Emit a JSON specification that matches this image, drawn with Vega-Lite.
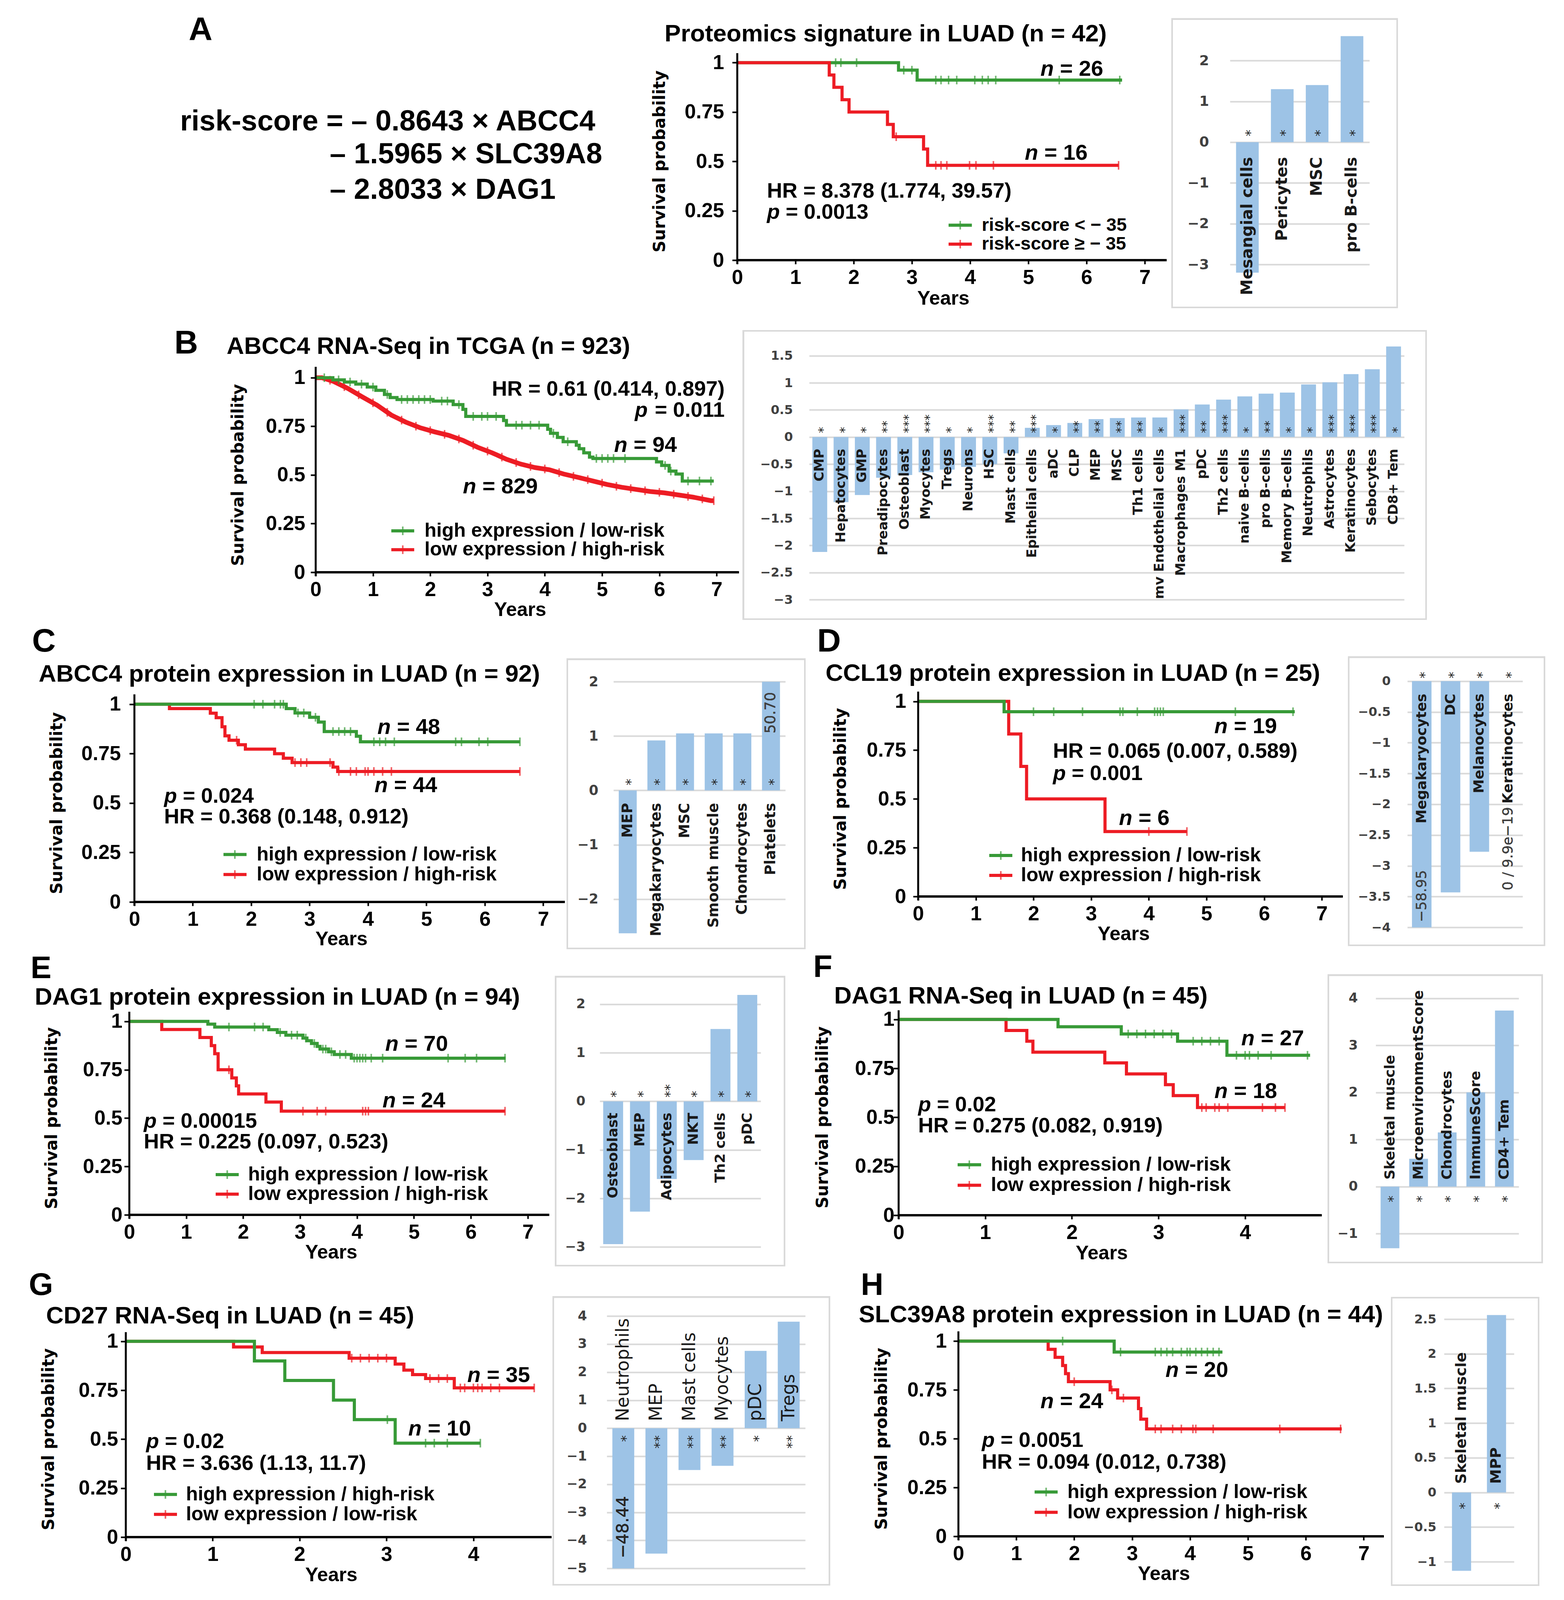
{
"$schema": "https://vega.github.io/schema/vega-lite/v6.json",
"background": "white",
"padding": 0,
"spacing": 0,
"config": {
  "view": {"stroke": null},
  "text": {"font": "Liberation Sans", "fontWeight": "bold", "color": "black", "baseline": "middle"}
},
"vconcat": [
{"bounds": "flush", "spacing": 0, "hconcat": [
{
 "width": 1887, "height": 831,
 "data": {"values": [{}]},
 "layer": [
  {"mark": {"type": "text", "text": "A", "fontSize": 84, "align": "center"},
   "encoding": {"x": {"datum": 0.272, "scale": {"domain": [0, 1], "nice": false}, "axis": null}, "y": {"datum": 0.0942, "scale": {"domain": [0, 1], "reverse": true, "nice": false}, "axis": null}}},
  {"mark": {"type": "text", "text": "risk-score = – 0.8643 × ABCC4", "fontSize": 74, "align": "left"},
   "encoding": {"x": {"datum": 0.2443}, "y": {"datum": 0.376}}},
  {"mark": {"type": "text", "text": "– 1.5965 × SLC39A8", "fontSize": 74, "align": "left"},
   "encoding": {"x": {"datum": 0.4473}, "y": {"datum": 0.4769}}},
  {"mark": {"type": "text", "text": "– 2.8033 × DAG1", "fontSize": 74, "align": "left"},
   "encoding": {"x": {"datum": 0.4473}, "y": {"datum": 0.5856}}}
 ]
},
{
 "width": 1261, "height": 666,
 "data": {"values": [{}]},
 "layer": [
  {"data": {"values": [{"t":0,"s":1},{"t":2.77,"s":0.962},{"t":3.09,"s":0.912},{"t":6.61,"s":0.912}]},
   "mark": {"type": "line", "interpolate": "step-after", "color": "#379a37", "strokeWidth": 8},
   "encoding": {
    "x": {"field": "t", "type": "quantitative", "scale": {"domain": [0, 8.463], "nice": false, "zero": false},
          "axis": {"values": [0,1,2,3,4,5,6,7], "format": "d", "title": null, "domain": false, "grid": false, "tickSize": 10, "tickWidth": 4, "tickColor": "black", "labelFont": "Liberation Sans", "labelFontSize": 52, "labelFontWeight": "bold", "labelColor": "black", "labelPadding": 9, "labelFlush": false, "labelOverlap": false}},
    "y": {"field": "s", "type": "quantitative", "scale": {"domain": [0, 1.3172], "nice": false, "zero": false},
          "axis": {"values": [0,0.25,0.5,0.75,1], "format": "~g", "title": null, "domain": false, "grid": false, "tickSize": 13, "tickWidth": 4, "tickColor": "black", "labelFont": "Liberation Sans", "labelFontSize": 52, "labelFontWeight": "bold", "labelColor": "black", "labelPadding": 21, "labelFlush": false, "labelOverlap": false}}}},
  {"data": {"values": [{"t":1.69,"s":1},{"t":1.78,"s":1},{"t":2.05,"s":1},{"t":2.86,"s":0.962},{"t":3.0,"s":0.962},{"t":3.41,"s":0.912},{"t":3.5,"s":0.912},{"t":3.63,"s":0.912},{"t":3.77,"s":0.912},{"t":4.08,"s":0.912},{"t":4.21,"s":0.912},{"t":4.31,"s":0.912},{"t":4.44,"s":0.912},{"t":5.53,"s":0.912},{"t":6.57,"s":0.912}]},
   "mark": {"type": "tick", "orient": "vertical", "color": "#379a37", "size": 22, "thickness": 4},
   "encoding": {"x": {"field": "t", "type": "quantitative"}, "y": {"field": "s", "type": "quantitative"}}},
  {"data": {"values": [{"t":0,"s":1},{"t":1.58,"s":0.9375},{"t":1.66,"s":0.875},{"t":1.8,"s":0.8125},{"t":1.92,"s":0.75},{"t":2.58,"s":0.6875},{"t":2.68,"s":0.625},{"t":3.2,"s":0.5625},{"t":3.27,"s":0.48},{"t":6.55,"s":0.48}]},
   "mark": {"type": "line", "interpolate": "step-after", "color": "#ed1c24", "strokeWidth": 8},
   "encoding": {"x": {"field": "t", "type": "quantitative"}, "y": {"field": "s", "type": "quantitative"}}},
  {"data": {"values": [{"t":2.73,"s":0.625},{"t":3.41,"s":0.48},{"t":3.5,"s":0.48},{"t":3.6,"s":0.48},{"t":3.99,"s":0.48},{"t":4.1,"s":0.48},{"t":4.4,"s":0.48},{"t":6.55,"s":0.48}]},
   "mark": {"type": "tick", "orient": "vertical", "color": "#ed1c24", "size": 22, "thickness": 4},
   "encoding": {"x": {"field": "t", "type": "quantitative"}, "y": {"field": "s", "type": "quantitative"}}},
  {"mark": {"type": "rule", "color": "black", "strokeWidth": 6}, "encoding": {"x": {"datum": 0}, "x2": {"datum": 7.376}, "y": {"datum": 0}}},
  {"mark": {"type": "rule", "color": "black", "strokeWidth": 5}, "encoding": {"x": {"datum": 0}, "y": {"datum": -0.02}, "y2": {"datum": 1.048}}},
  {"mark": {"type": "text", "text": "Proteomics signature in LUAD (n = 42)", "fontSize": 62, "align": "left"}, "encoding": {"x": {"datum": -1.248}, "y": {"datum": 1.145}}},
  {"mark": {"type": "text", "text": "n", "fontStyle": "italic", "fontSize": 56, "align": "left"}, "encoding": {"x": {"datum": 5.208}, "y": {"datum": 0.968}}},
  {"mark": {"type": "text", "text": "= 26", "dx": 50, "fontSize": 56, "align": "left"}, "encoding": {"x": {"datum": 5.208}, "y": {"datum": 0.968}}},
  {"mark": {"type": "text", "text": "n", "fontStyle": "italic", "fontSize": 56, "align": "left"}, "encoding": {"x": {"datum": 4.94}, "y": {"datum": 0.542}}},
  {"mark": {"type": "text", "text": "= 16", "dx": 50, "fontSize": 56, "align": "left"}, "encoding": {"x": {"datum": 4.94}, "y": {"datum": 0.542}}},
  {"mark": {"type": "text", "text": "HR = 8.378 (1.774, 39.57)", "fontSize": 54, "align": "left"}, "encoding": {"x": {"datum": 0.51}, "y": {"datum": 0.349}}},
  {"mark": {"type": "text", "text": "p", "fontStyle": "italic", "fontSize": 54, "align": "left"}, "encoding": {"x": {"datum": 0.51}, "y": {"datum": 0.242}}},
  {"mark": {"type": "text", "text": "= 0.0013", "dx": 48, "fontSize": 54, "align": "left"}, "encoding": {"x": {"datum": 0.51}, "y": {"datum": 0.242}}},
  {"mark": {"type": "rule", "color": "#379a37", "strokeWidth": 8}, "encoding": {"x": {"datum": 3.63}, "x2": {"datum": 4.03}, "y": {"datum": 0.177}}},
  {"mark": {"type": "tick", "orient": "vertical", "color": "#379a37", "size": 22, "thickness": 4}, "encoding": {"x": {"datum": 3.83}, "y": {"datum": 0.177}}},
  {"mark": {"type": "rule", "color": "#ed1c24", "strokeWidth": 8}, "encoding": {"x": {"datum": 3.63}, "x2": {"datum": 4.03}, "y": {"datum": 0.081}}},
  {"mark": {"type": "tick", "orient": "vertical", "color": "#ed1c24", "size": 22, "thickness": 4}, "encoding": {"x": {"datum": 3.83}, "y": {"datum": 0.081}}},
  {"mark": {"type": "text", "text": "risk-score < − 35", "fontSize": 47, "align": "left"}, "encoding": {"x": {"datum": 4.2}, "y": {"datum": 0.177}}},
  {"mark": {"type": "text", "text": "risk-score ≥ − 35", "fontSize": 47, "align": "left"}, "encoding": {"x": {"datum": 4.2}, "y": {"datum": 0.081}}},
  {"mark": {"type": "text", "text": "Years", "fontSize": 50, "align": "center"}, "encoding": {"x": {"datum": 3.54}, "y": {"datum": -0.195}}},
  {"mark": {"type": "text", "text": "Survival probability", "font": "DejaVu Sans", "fontSize": 42, "angle": 270, "align": "center"}, "encoding": {"x": {"datum": -1.329}, "y": {"datum": 0.5}}}
 ]
},
{
 "width": 357, "height": 787,
 "data": {"values": [{"cat":"Mesangial cells","v":-3.2,"star":"*"},{"cat":"Pericytes","v":1.3,"star":"*"},{"cat":"MSC","v":1.4,"star":"*"},{"cat":"pro B-cells","v":2.6,"star":"*"}]},
 "layer": [
  {"mark": {"type": "rect", "filled": false, "stroke": "#d9d9d9", "strokeWidth": 4},
   "encoding": {"x": {"datum": "Mesangial cells", "bandPosition": -2.821, "axis": null}, "x2": {"datum": "pro B-cells", "bandPosition": 2.493}, "y": {"datum": 3.019}, "y2": {"datum": -4.0536}}},
  {"mark": {"type": "bar", "color": "#9dc3e6"},
   "encoding": {
    "x": {"field": "cat", "type": "nominal", "scale": {"domain": ["Mesangial cells","Pericytes","MSC","pro B-cells"], "paddingInner": 0.35, "paddingOuter": 0.175}, "axis": null},
    "y": {"field": "v", "type": "quantitative", "scale": {"domain": [-4.0536, 3.4866], "nice": false, "zero": false},
          "axis": {"values": [-3,-2,-1,0,1,2], "format": "~g", "title": null, "domain": false, "ticks": false, "tickSize": 0, "grid": true, "gridColor": "#d9d9d9", "gridWidth": 4, "labelFont": "DejaVu Sans", "labelFontSize": 36, "labelFontWeight": "bold", "labelColor": "#404040", "labelPadding": 54, "labelFlush": false, "labelOverlap": false}}}},
  {"mark": {"type": "text", "angle": 270, "align": "left", "dx": 15, "dy": 9, "font": "DejaVu Sans", "fontWeight": "normal", "fontSize": 34, "color": "#262626"},
   "encoding": {"x": {"field": "cat", "type": "nominal", "axis": null}, "y": {"datum": 0}, "text": {"field": "star"}}},
  {"mark": {"type": "text", "angle": 270, "align": "right", "dx": -38, "font": "DejaVu Sans", "fontSize": 41, "color": "#1a1a1a"},
   "encoding": {"x": {"field": "cat", "type": "nominal", "axis": null}, "y": {"datum": 0}, "text": {"field": "cat"}}}
 ]
}
]},

{"bounds": "flush", "spacing": 0, "hconcat": [
{"width": 808, "height": 760, "data": {"values": []}, "mark": "point", "encoding": {}},
{
 "width": 1263, "height": 634,
 "data": {"values": [{}]},
 "layer": [
  {"data": {"values": [{"t":0,"s":1},{"t":0.11,"s":1},{"t":0.31,"s":0.981},{"t":0.56,"s":0.945},{"t":0.81,"s":0.902},{"t":1.07,"s":0.859},{"t":1.32,"s":0.808},{"t":1.57,"s":0.772},{"t":1.82,"s":0.743},{"t":2.07,"s":0.722},{"t":2.32,"s":0.704},{"t":2.57,"s":0.678},{"t":2.83,"s":0.642},{"t":3.08,"s":0.614},{"t":3.33,"s":0.581},{"t":3.58,"s":0.556},{"t":3.83,"s":0.538},{"t":4.08,"s":0.527},{"t":4.33,"s":0.505},{"t":4.59,"s":0.487},{"t":4.84,"s":0.469},{"t":5.09,"s":0.451},{"t":5.34,"s":0.437},{"t":5.59,"s":0.426},{"t":5.84,"s":0.415},{"t":6.09,"s":0.408},{"t":6.34,"s":0.397},{"t":6.59,"s":0.386},{"t":6.9,"s":0.368},{"t":6.95,"s":0.368}]},
   "mark": {"type": "line", "color": "#ed1c24", "strokeWidth": 12},
   "encoding": {
    "x": {"field": "t", "type": "quantitative", "scale": {"domain": [0, 8.615], "nice": false, "zero": false},
          "axis": {"values": [0,1,2,3,4,5,6,7], "format": "d", "title": null, "domain": false, "grid": false, "tickSize": 10, "tickWidth": 4, "tickColor": "black", "labelFont": "Liberation Sans", "labelFontSize": 52, "labelFontWeight": "bold", "labelColor": "black", "labelPadding": 9, "labelFlush": false, "labelOverlap": false}},
    "y": {"field": "s", "type": "quantitative", "scale": {"domain": [0, 1.2729], "nice": false, "zero": false},
          "axis": {"values": [0,0.25,0.5,0.75,1], "format": "~g", "title": null, "domain": false, "grid": false, "tickSize": 13, "tickWidth": 4, "tickColor": "black", "labelFont": "Liberation Sans", "labelFontSize": 52, "labelFontWeight": "bold", "labelColor": "black", "labelPadding": 14, "labelFlush": false, "labelOverlap": false}}}},
  {"data": {"values": [{"t":0.25,"s":0.987},{"t":0.5,"s":0.954},{"t":0.75,"s":0.912},{"t":1.0,"s":0.871},{"t":1.25,"s":0.822},{"t":1.5,"s":0.782},{"t":1.75,"s":0.751},{"t":2.0,"s":0.728},{"t":2.25,"s":0.709},{"t":2.5,"s":0.685},{"t":2.75,"s":0.653},{"t":3.0,"s":0.623},{"t":3.25,"s":0.592},{"t":3.5,"s":0.564},{"t":3.75,"s":0.544},{"t":4.0,"s":0.531},{"t":4.25,"s":0.512},{"t":4.5,"s":0.493},{"t":4.75,"s":0.476},{"t":5.0,"s":0.458},{"t":5.25,"s":0.442},{"t":5.5,"s":0.43},{"t":5.75,"s":0.419},{"t":6.0,"s":0.411},{"t":6.25,"s":0.401},{"t":6.5,"s":0.39},{"t":6.75,"s":0.377},{"t":6.95,"s":0.368}]},
   "mark": {"type": "tick", "orient": "vertical", "color": "#ed1c24", "size": 22, "thickness": 4},
   "encoding": {"x": {"field": "t", "type": "quantitative"}, "y": {"field": "s", "type": "quantitative"}}},
  {"data": {"values": [{"t":0,"s":1},{"t":0.3,"s":0.989},{"t":0.5,"s":0.978},{"t":0.7,"s":0.967},{"t":0.9,"s":0.952},{"t":1.05,"s":0.935},{"t":1.2,"s":0.914},{"t":1.3,"s":0.898},{"t":1.42,"s":0.888},{"t":2.05,"s":0.88},{"t":2.4,"s":0.862},{"t":2.57,"s":0.837},{"t":2.62,"s":0.801},{"t":3.28,"s":0.78},{"t":3.33,"s":0.756},{"t":4.05,"s":0.735},{"t":4.1,"s":0.714},{"t":4.22,"s":0.693},{"t":4.32,"s":0.671},{"t":4.55,"s":0.653},{"t":4.6,"s":0.635},{"t":4.68,"s":0.614},{"t":4.78,"s":0.592},{"t":4.84,"s":0.585},{"t":5.95,"s":0.567},{"t":6.04,"s":0.549},{"t":6.17,"s":0.52},{"t":6.29,"s":0.505},{"t":6.4,"s":0.469},{"t":6.95,"s":0.469}]},
   "mark": {"type": "line", "interpolate": "step-after", "color": "#379a37", "strokeWidth": 8},
   "encoding": {"x": {"field": "t", "type": "quantitative"}, "y": {"field": "s", "type": "quantitative"}}},
  {"data": {"values": [{"t":0.15,"s":1},{"t":0.4,"s":0.989},{"t":0.6,"s":0.978},{"t":0.8,"s":0.967},{"t":1.0,"s":0.952},{"t":1.25,"s":0.914},{"t":1.5,"s":0.888},{"t":1.6,"s":0.888},{"t":1.7,"s":0.888},{"t":1.8,"s":0.888},{"t":1.9,"s":0.888},{"t":2.0,"s":0.888},{"t":2.2,"s":0.88},{"t":2.3,"s":0.88},{"t":2.5,"s":0.862},{"t":2.75,"s":0.801},{"t":2.9,"s":0.801},{"t":3.0,"s":0.801},{"t":3.15,"s":0.801},{"t":3.5,"s":0.756},{"t":3.6,"s":0.756},{"t":3.75,"s":0.756},{"t":3.9,"s":0.756},{"t":4.15,"s":0.714},{"t":4.4,"s":0.671},{"t":4.9,"s":0.585},{"t":5.0,"s":0.585},{"t":5.1,"s":0.585},{"t":5.2,"s":0.585},{"t":5.4,"s":0.585},{"t":6.1,"s":0.549},{"t":6.2,"s":0.52},{"t":6.5,"s":0.469},{"t":6.7,"s":0.469},{"t":6.9,"s":0.469}]},
   "mark": {"type": "tick", "orient": "vertical", "color": "#379a37", "size": 22, "thickness": 4},
   "encoding": {"x": {"field": "t", "type": "quantitative"}, "y": {"field": "s", "type": "quantitative"}}},
  {"mark": {"type": "rule", "color": "black", "strokeWidth": 6}, "encoding": {"x": {"datum": 0}, "x2": {"datum": 7.39}, "y": {"datum": 0}}},
  {"mark": {"type": "rule", "color": "black", "strokeWidth": 5}, "encoding": {"x": {"datum": 0}, "y": {"datum": -0.02}, "y2": {"datum": 1.056}}},
  {"mark": {"type": "text", "text": "B", "fontSize": 84, "align": "center"}, "encoding": {"x": {"datum": -2.26}, "y": {"datum": 1.175}}},
  {"mark": {"type": "text", "text": "ABCC4 RNA-Seq in TCGA (n = 923)", "fontSize": 62, "align": "left"}, "encoding": {"x": {"datum": -1.555}, "y": {"datum": 1.16}}},
  {"mark": {"type": "text", "text": "HR = 0.61 (0.414, 0.897)", "fontSize": 54, "align": "right"}, "encoding": {"x": {"datum": 7.14}, "y": {"datum": 0.939}}},
  {"mark": {"type": "text", "text": "= 0.011", "fontSize": 54, "align": "right"}, "encoding": {"x": {"datum": 7.14}, "y": {"datum": 0.831}}},
  {"mark": {"type": "text", "text": "p", "fontStyle": "italic", "dx": -197, "fontSize": 54, "align": "right"}, "encoding": {"x": {"datum": 7.14}, "y": {"datum": 0.831}}},
  {"mark": {"type": "text", "text": "n", "fontStyle": "italic", "fontSize": 56, "align": "left"}, "encoding": {"x": {"datum": 5.21}, "y": {"datum": 0.653}}},
  {"mark": {"type": "text", "text": "= 94", "dx": 50, "fontSize": 56, "align": "left"}, "encoding": {"x": {"datum": 5.21}, "y": {"datum": 0.653}}},
  {"mark": {"type": "text", "text": "n", "fontStyle": "italic", "fontSize": 56, "align": "left"}, "encoding": {"x": {"datum": 2.57}, "y": {"datum": 0.44}}},
  {"mark": {"type": "text", "text": "= 829", "dx": 50, "fontSize": 56, "align": "left"}, "encoding": {"x": {"datum": 2.57}, "y": {"datum": 0.44}}},
  {"mark": {"type": "rule", "color": "#379a37", "strokeWidth": 8}, "encoding": {"x": {"datum": 1.32}, "x2": {"datum": 1.72}, "y": {"datum": 0.213}}},
  {"mark": {"type": "tick", "orient": "vertical", "color": "#379a37", "size": 22, "thickness": 4}, "encoding": {"x": {"datum": 1.52}, "y": {"datum": 0.213}}},
  {"mark": {"type": "rule", "color": "#ed1c24", "strokeWidth": 8}, "encoding": {"x": {"datum": 1.32}, "x2": {"datum": 1.72}, "y": {"datum": 0.116}}},
  {"mark": {"type": "tick", "orient": "vertical", "color": "#ed1c24", "size": 22, "thickness": 4}, "encoding": {"x": {"datum": 1.52}, "y": {"datum": 0.116}}},
  {"mark": {"type": "text", "text": "high expression / low-risk", "fontSize": 50, "align": "left"}, "encoding": {"x": {"datum": 1.9}, "y": {"datum": 0.213}}},
  {"mark": {"type": "text", "text": "low expression / high-risk", "fontSize": 50, "align": "left"}, "encoding": {"x": {"datum": 1.9}, "y": {"datum": 0.116}}},
  {"mark": {"type": "text", "text": "Years", "fontSize": 50, "align": "center"}, "encoding": {"x": {"datum": 3.57}, "y": {"datum": -0.195}}},
  {"mark": {"type": "text", "text": "Survival probability", "font": "DejaVu Sans", "fontSize": 42, "angle": 270, "align": "center"}, "encoding": {"x": {"datum": -1.351}, "y": {"datum": 0.5}}}
 ]
},
{
 "width": 1523, "height": 754,
 "data": {"values": [
  {"cat":"CMP","v":-2.12,"star":"*"},{"cat":"Hepatocytes","v":-1.2,"star":"*"},{"cat":"GMP","v":-1.07,"star":"*"},{"cat":"Preadipocytes","v":-0.75,"star":"**"},{"cat":"Osteoblast","v":-0.7,"star":"***"},{"cat":"Myocytes","v":-0.65,"star":"***"},{"cat":"Tregs","v":-0.6,"star":"*"},{"cat":"Neurons","v":-0.55,"star":"*"},{"cat":"HSC","v":-0.5,"star":"***"},{"cat":"Mast cells","v":-0.3,"star":"**"},
  {"cat":"Epithelial cells","v":0.17,"star":"***"},{"cat":"aDC","v":0.22,"star":"*"},{"cat":"CLP","v":0.26,"star":"**"},{"cat":"MEP","v":0.33,"star":"**"},{"cat":"MSC","v":0.35,"star":"**"},{"cat":"Th1 cells","v":0.36,"star":"**"},{"cat":"mv Endothelial cells","v":0.36,"star":"*"},{"cat":"Macrophages M1","v":0.51,"star":"***"},{"cat":"pDC","v":0.6,"star":"**"},{"cat":"Th2 cells","v":0.69,"star":"***"},
  {"cat":"naive B-cells","v":0.75,"star":"*"},{"cat":"pro B-cells","v":0.8,"star":"**"},{"cat":"Memory B-cells","v":0.82,"star":"*"},{"cat":"Neutrophils","v":0.97,"star":"*"},{"cat":"Astrocytes","v":1.01,"star":"***"},{"cat":"Keratinocytes","v":1.16,"star":"***"},{"cat":"Sebocytes","v":1.25,"star":"***"},{"cat":"CD8+ Tem","v":1.67,"star":"*"}]},
 "layer": [
  {"mark": {"type": "rect", "filled": false, "stroke": "#d9d9d9", "strokeWidth": 4},
   "encoding": {"x": {"datum": "CMP", "bandPosition": -4.637, "axis": null}, "x2": {"datum": "CD8+ Tem", "bandPosition": 2.689}, "y": {"datum": 1.9585}, "y2": {"datum": -3.3583}}},
  {"mark": {"type": "bar", "color": "#9dc3e6"},
   "encoding": {
    "x": {"field": "cat", "type": "nominal", "scale": {"domain": ["CMP","Hepatocytes","GMP","Preadipocytes","Osteoblast","Myocytes","Tregs","Neurons","HSC","Mast cells","Epithelial cells","aDC","CLP","MEP","MSC","Th1 cells","mv Endothelial cells","Macrophages M1","pDC","Th2 cells","naive B-cells","pro B-cells","Memory B-cells","Neutrophils","Astrocytes","Keratinocytes","Sebocytes","CD8+ Tem"], "paddingInner": 0.3013, "paddingOuter": 0.1507}, "axis": null},
    "y": {"field": "v", "type": "quantitative", "scale": {"domain": [-3.3583, 2.0737], "nice": false, "zero": false},
          "axis": {"values": [-3,-2.5,-2,-1.5,-1,-0.5,0,0.5,1,1.5], "format": "~g", "title": null, "domain": false, "ticks": false, "tickSize": 0, "grid": true, "gridColor": "#d9d9d9", "gridWidth": 4, "labelFont": "DejaVu Sans", "labelFontSize": 32, "labelFontWeight": "bold", "labelColor": "#404040", "labelPadding": 42, "labelFlush": false, "labelOverlap": false}}}},
  {"mark": {"type": "text", "angle": 270, "align": "left", "dx": 10, "dy": 9, "font": "DejaVu Sans", "fontWeight": "normal", "fontSize": 32, "color": "#262626"},
   "encoding": {"x": {"field": "cat", "type": "nominal", "axis": null}, "y": {"datum": 0}, "text": {"field": "star"}}},
  {"mark": {"type": "text", "angle": 270, "align": "right", "dx": -30, "font": "DejaVu Sans", "fontSize": 34, "color": "#1a1a1a"},
   "encoding": {"x": {"field": "cat", "type": "nominal", "axis": null}, "y": {"datum": 0}, "text": {"field": "cat"}}}
 ]
}
]},

{"bounds": "flush", "spacing": 0, "hconcat": [
{"width": 344, "height": 843, "data": {"values": []}, "mark": "point", "encoding": {}},
{
 "width": 1226, "height": 718,
 "data": {"values": [{}]},
 "layer": [
  {"data": {"values": [{"t":0,"s":1},{"t":0.6,"s":0.978},{"t":1.3,"s":0.955},{"t":1.4,"s":0.932},{"t":1.5,"s":0.886},{"t":1.55,"s":0.84},{"t":1.62,"s":0.818},{"t":1.78,"s":0.795},{"t":1.9,"s":0.773},{"t":2.4,"s":0.75},{"t":2.55,"s":0.727},{"t":2.7,"s":0.705},{"t":3.4,"s":0.682},{"t":3.48,"s":0.66},{"t":6.6,"s":0.66}]},
   "mark": {"type": "line", "interpolate": "step-after", "color": "#ed1c24", "strokeWidth": 8},
   "encoding": {
    "x": {"field": "t", "type": "quantitative", "scale": {"domain": [0, 8.201], "nice": false, "zero": false},
          "axis": {"values": [0,1,2,3,4,5,6,7], "format": "d", "title": null, "domain": false, "grid": false, "tickSize": 10, "tickWidth": 4, "tickColor": "black", "labelFont": "Liberation Sans", "labelFontSize": 52, "labelFontWeight": "bold", "labelColor": "black", "labelPadding": 9, "labelFlush": false, "labelOverlap": false}},
    "y": {"field": "s", "type": "quantitative", "scale": {"domain": [0, 1.4186], "nice": false, "zero": false},
          "axis": {"values": [0,0.25,0.5,0.75,1], "format": "~g", "title": null, "domain": false, "grid": false, "tickSize": 13, "tickWidth": 4, "tickColor": "black", "labelFont": "Liberation Sans", "labelFontSize": 52, "labelFontWeight": "bold", "labelColor": "black", "labelPadding": 22, "labelFlush": false, "labelOverlap": false}}}},
  {"data": {"values": [{"t":1.75,"s":0.818},{"t":2.75,"s":0.705},{"t":2.85,"s":0.705},{"t":2.95,"s":0.705},{"t":3.35,"s":0.705},{"t":3.5,"s":0.66},{"t":3.7,"s":0.66},{"t":3.8,"s":0.66},{"t":3.95,"s":0.66},{"t":4.0,"s":0.66},{"t":4.1,"s":0.66},{"t":4.25,"s":0.66},{"t":4.4,"s":0.66},{"t":6.6,"s":0.66}]},
   "mark": {"type": "tick", "orient": "vertical", "color": "#ed1c24", "size": 22, "thickness": 4},
   "encoding": {"x": {"field": "t", "type": "quantitative"}, "y": {"field": "s", "type": "quantitative"}}},
  {"data": {"values": [{"t":0,"s":1},{"t":2.6,"s":0.978},{"t":2.75,"s":0.956},{"t":3.0,"s":0.934},{"t":3.15,"s":0.91},{"t":3.25,"s":0.862},{"t":3.8,"s":0.838},{"t":3.87,"s":0.81},{"t":6.6,"s":0.81}]},
   "mark": {"type": "line", "interpolate": "step-after", "color": "#379a37", "strokeWidth": 8},
   "encoding": {"x": {"field": "t", "type": "quantitative"}, "y": {"field": "s", "type": "quantitative"}}},
  {"data": {"values": [{"t":2.05,"s":1},{"t":2.2,"s":1},{"t":2.4,"s":1},{"t":2.5,"s":1},{"t":2.55,"s":1},{"t":2.8,"s":0.956},{"t":2.9,"s":0.956},{"t":3.1,"s":0.934},{"t":3.4,"s":0.862},{"t":3.5,"s":0.862},{"t":3.6,"s":0.862},{"t":3.7,"s":0.862},{"t":4.1,"s":0.81},{"t":4.2,"s":0.81},{"t":4.3,"s":0.81},{"t":4.45,"s":0.81},{"t":5.5,"s":0.81},{"t":5.6,"s":0.81},{"t":5.9,"s":0.81},{"t":6.05,"s":0.81},{"t":6.6,"s":0.81}]},
   "mark": {"type": "tick", "orient": "vertical", "color": "#379a37", "size": 22, "thickness": 4},
   "encoding": {"x": {"field": "t", "type": "quantitative"}, "y": {"field": "s", "type": "quantitative"}}},
  {"mark": {"type": "rule", "color": "black", "strokeWidth": 6}, "encoding": {"x": {"datum": 0}, "x2": {"datum": 7.37}, "y": {"datum": 0}}},
  {"mark": {"type": "rule", "color": "black", "strokeWidth": 5}, "encoding": {"x": {"datum": 0}, "y": {"datum": -0.02}, "y2": {"datum": 1.05}}},
  {"mark": {"type": "text", "text": "C", "fontSize": 84, "align": "center"}, "encoding": {"x": {"datum": -1.55}, "y": {"datum": 1.315}}},
  {"mark": {"type": "text", "text": "ABCC4 protein expression in LUAD (n = 92)", "fontSize": 62, "align": "left"}, "encoding": {"x": {"datum": -1.639}, "y": {"datum": 1.152}}},
  {"mark": {"type": "text", "text": "n", "fontStyle": "italic", "fontSize": 56, "align": "left"}, "encoding": {"x": {"datum": 4.16}, "y": {"datum": 0.883}}},
  {"mark": {"type": "text", "text": "= 48", "dx": 50, "fontSize": 56, "align": "left"}, "encoding": {"x": {"datum": 4.16}, "y": {"datum": 0.883}}},
  {"mark": {"type": "text", "text": "n", "fontStyle": "italic", "fontSize": 56, "align": "left"}, "encoding": {"x": {"datum": 4.11}, "y": {"datum": 0.589}}},
  {"mark": {"type": "text", "text": "= 44", "dx": 50, "fontSize": 56, "align": "left"}, "encoding": {"x": {"datum": 4.11}, "y": {"datum": 0.589}}},
  {"mark": {"type": "text", "text": "p", "fontStyle": "italic", "fontSize": 54, "align": "left"}, "encoding": {"x": {"datum": 0.508}, "y": {"datum": 0.534}}},
  {"mark": {"type": "text", "text": "= 0.024", "dx": 48, "fontSize": 54, "align": "left"}, "encoding": {"x": {"datum": 0.508}, "y": {"datum": 0.534}}},
  {"mark": {"type": "text", "text": "HR = 0.368 (0.148, 0.912)", "fontSize": 54, "align": "left"}, "encoding": {"x": {"datum": 0.508}, "y": {"datum": 0.428}}},
  {"mark": {"type": "rule", "color": "#379a37", "strokeWidth": 8}, "encoding": {"x": {"datum": 1.525}, "x2": {"datum": 1.92}, "y": {"datum": 0.24}}},
  {"mark": {"type": "tick", "orient": "vertical", "color": "#379a37", "size": 22, "thickness": 4}, "encoding": {"x": {"datum": 1.72}, "y": {"datum": 0.24}}},
  {"mark": {"type": "rule", "color": "#ed1c24", "strokeWidth": 8}, "encoding": {"x": {"datum": 1.525}, "x2": {"datum": 1.92}, "y": {"datum": 0.139}}},
  {"mark": {"type": "tick", "orient": "vertical", "color": "#ed1c24", "size": 22, "thickness": 4}, "encoding": {"x": {"datum": 1.72}, "y": {"datum": 0.139}}},
  {"mark": {"type": "text", "text": "high expression / low-risk", "fontSize": 50, "align": "left"}, "encoding": {"x": {"datum": 2.094}, "y": {"datum": 0.24}}},
  {"mark": {"type": "text", "text": "low expression / high-risk", "fontSize": 50, "align": "left"}, "encoding": {"x": {"datum": 2.094}, "y": {"datum": 0.139}}},
  {"mark": {"type": "text", "text": "Years", "fontSize": 50, "align": "center"}, "encoding": {"x": {"datum": 3.545}, "y": {"datum": -0.19}}},
  {"mark": {"type": "text", "text": "Survival probability", "font": "DejaVu Sans", "fontSize": 42, "angle": 270, "align": "center"}, "encoding": {"x": {"datum": -1.324}, "y": {"datum": 0.5}}}
 ]
},
{
 "width": 440, "height": 837,
 "data": {"values": [{"cat":"MEP","v":-2.63,"star":"*"},{"cat":"Megakaryocytes","v":0.92,"star":"*"},{"cat":"MSC","v":1.05,"star":"*"},{"cat":"Smooth muscle","v":1.05,"star":"*"},{"cat":"Chondrocytes","v":1.05,"star":"*"},{"cat":"Platelets","v":2.0,"star":"*"}]},
 "layer": [
  {"mark": {"type": "rect", "filled": false, "stroke": "#d9d9d9", "strokeWidth": 4},
   "encoding": {"x": {"datum": "MEP", "bandPosition": -2.862, "axis": null}, "x2": {"datum": "Platelets", "bandPosition": 2.384}, "y": {"datum": 2.4138}, "y2": {"datum": -2.908}}},
  {"mark": {"type": "bar", "color": "#9dc3e6"},
   "encoding": {
    "x": {"field": "cat", "type": "nominal", "scale": {"domain": ["MEP","Megakaryocytes","MSC","Smooth muscle","Chondrocytes","Platelets"], "paddingInner": 0.3727, "paddingOuter": 0.1864}, "axis": null},
    "y": {"field": "v", "type": "quantitative", "scale": {"domain": [-2.908, 3.1092], "nice": false, "zero": false},
          "axis": {"values": [-2,-1,0,1,2], "format": "~g", "title": null, "domain": false, "ticks": false, "tickSize": 0, "grid": true, "gridColor": "#d9d9d9", "gridWidth": 4, "labelFont": "DejaVu Sans", "labelFontSize": 35, "labelFontWeight": "bold", "labelColor": "#404040", "labelPadding": 39, "labelFlush": false, "labelOverlap": false}}}},
  {"mark": {"type": "text", "angle": 270, "align": "left", "dx": 13, "dy": 9, "font": "DejaVu Sans", "fontWeight": "normal", "fontSize": 34, "color": "#262626"},
   "encoding": {"x": {"field": "cat", "type": "nominal", "axis": null}, "y": {"datum": 0}, "text": {"field": "star"}}},
  {"mark": {"type": "text", "angle": 270, "align": "right", "dx": -32, "font": "DejaVu Sans", "fontSize": 37, "color": "#1a1a1a"},
   "encoding": {"x": {"field": "cat", "type": "nominal", "axis": null}, "y": {"datum": 0}, "text": {"field": "cat"}}},
  {"mark": {"type": "text", "text": "50.70", "angle": 270, "align": "center", "font": "DejaVu Sans", "fontWeight": "normal", "fontSize": 37, "color": "#404040"},
   "encoding": {"x": {"datum": "Platelets", "axis": null}, "y": {"datum": 1.43}}}
 ]
},
{"width": 340, "height": 1, "data": {"values": []}, "mark": "point", "encoding": {}},
{
 "width": 1252, "height": 704,
 "data": {"values": [{}]},
 "layer": [
  {"data": {"values": [{"t":0,"s":1},{"t":1.57,"s":0.833},{"t":1.78,"s":0.667},{"t":1.88,"s":0.5},{"t":3.24,"s":0.333},{"t":4.66,"s":0.333}]},
   "mark": {"type": "line", "interpolate": "step-after", "color": "#ed1c24", "strokeWidth": 8},
   "encoding": {
    "x": {"field": "t", "type": "quantitative", "scale": {"domain": [0, 8.482], "nice": false, "zero": false},
          "axis": {"values": [0,1,2,3,4,5,6,7], "format": "d", "title": null, "domain": false, "grid": false, "tickSize": 10, "tickWidth": 4, "tickColor": "black", "labelFont": "Liberation Sans", "labelFontSize": 52, "labelFontWeight": "bold", "labelColor": "black", "labelPadding": 9, "labelFlush": false, "labelOverlap": false}},
    "y": {"field": "s", "type": "quantitative", "scale": {"domain": [0, 1.4096], "nice": false, "zero": false},
          "axis": {"values": [0,0.25,0.5,0.75,1], "format": "~g", "title": null, "domain": false, "grid": false, "tickSize": 13, "tickWidth": 4, "tickColor": "black", "labelFont": "Liberation Sans", "labelFontSize": 52, "labelFontWeight": "bold", "labelColor": "black", "labelPadding": 18, "labelFlush": false, "labelOverlap": false}}}},
  {"data": {"values": [{"t":4.0,"s":0.333},{"t":4.66,"s":0.333}]},
   "mark": {"type": "tick", "orient": "vertical", "color": "#ed1c24", "size": 22, "thickness": 4},
   "encoding": {"x": {"field": "t", "type": "quantitative"}, "y": {"field": "s", "type": "quantitative"}}},
  {"data": {"values": [{"t":0,"s":1},{"t":1.49,"s":0.947},{"t":6.53,"s":0.947}]},
   "mark": {"type": "line", "interpolate": "step-after", "color": "#379a37", "strokeWidth": 8},
   "encoding": {"x": {"field": "t", "type": "quantitative"}, "y": {"field": "s", "type": "quantitative"}}},
  {"data": {"values": [{"t":2.0,"s":0.947},{"t":2.35,"s":0.947},{"t":2.85,"s":0.947},{"t":3.5,"s":0.947},{"t":3.55,"s":0.947},{"t":3.8,"s":0.947},{"t":4.1,"s":0.947},{"t":4.15,"s":0.947},{"t":4.2,"s":0.947},{"t":4.25,"s":0.947},{"t":5.5,"s":0.947},{"t":6.5,"s":0.947}]},
   "mark": {"type": "tick", "orient": "vertical", "color": "#379a37", "size": 22, "thickness": 4},
   "encoding": {"x": {"field": "t", "type": "quantitative"}, "y": {"field": "s", "type": "quantitative"}}},
  {"mark": {"type": "rule", "color": "black", "strokeWidth": 6}, "encoding": {"x": {"datum": 0}, "x2": {"datum": 7.364}, "y": {"datum": 0}}},
  {"mark": {"type": "rule", "color": "black", "strokeWidth": 5}, "encoding": {"x": {"datum": 0}, "y": {"datum": -0.02}, "y2": {"datum": 1.05}}},
  {"mark": {"type": "text", "text": "D", "fontSize": 84, "align": "center"}, "encoding": {"x": {"datum": -1.545}, "y": {"datum": 1.305}}},
  {"mark": {"type": "text", "text": "CCL19 protein expression in LUAD (n = 25)", "fontSize": 62, "align": "left"}, "encoding": {"x": {"datum": -1.606}, "y": {"datum": 1.143}}},
  {"mark": {"type": "text", "text": "n", "fontStyle": "italic", "fontSize": 56, "align": "left"}, "encoding": {"x": {"datum": 5.135}, "y": {"datum": 0.871}}},
  {"mark": {"type": "text", "text": "= 19", "dx": 50, "fontSize": 56, "align": "left"}, "encoding": {"x": {"datum": 5.135}, "y": {"datum": 0.871}}},
  {"mark": {"type": "text", "text": "n", "fontStyle": "italic", "fontSize": 56, "align": "left"}, "encoding": {"x": {"datum": 3.482}, "y": {"datum": 0.401}}},
  {"mark": {"type": "text", "text": "= 6", "dx": 50, "fontSize": 56, "align": "left"}, "encoding": {"x": {"datum": 3.482}, "y": {"datum": 0.401}}},
  {"mark": {"type": "text", "text": "HR = 0.065 (0.007, 0.589)", "fontSize": 54, "align": "left"}, "encoding": {"x": {"datum": 2.337}, "y": {"datum": 0.742}}},
  {"mark": {"type": "text", "text": "p", "fontStyle": "italic", "fontSize": 54, "align": "left"}, "encoding": {"x": {"datum": 2.337}, "y": {"datum": 0.628}}},
  {"mark": {"type": "text", "text": "= 0.001", "dx": 48, "fontSize": 54, "align": "left"}, "encoding": {"x": {"datum": 2.337}, "y": {"datum": 0.628}}},
  {"mark": {"type": "rule", "color": "#379a37", "strokeWidth": 8}, "encoding": {"x": {"datum": 1.233}, "x2": {"datum": 1.633}, "y": {"datum": 0.21}}},
  {"mark": {"type": "tick", "orient": "vertical", "color": "#379a37", "size": 22, "thickness": 4}, "encoding": {"x": {"datum": 1.433}, "y": {"datum": 0.21}}},
  {"mark": {"type": "rule", "color": "#ed1c24", "strokeWidth": 8}, "encoding": {"x": {"datum": 1.233}, "x2": {"datum": 1.633}, "y": {"datum": 0.108}}},
  {"mark": {"type": "tick", "orient": "vertical", "color": "#ed1c24", "size": 22, "thickness": 4}, "encoding": {"x": {"datum": 1.433}, "y": {"datum": 0.108}}},
  {"mark": {"type": "text", "text": "high expression / low-risk", "fontSize": 50, "align": "left"}, "encoding": {"x": {"datum": 1.782}, "y": {"datum": 0.21}}},
  {"mark": {"type": "text", "text": "low expression / high-risk", "fontSize": 50, "align": "left"}, "encoding": {"x": {"datum": 1.782}, "y": {"datum": 0.108}}},
  {"mark": {"type": "text", "text": "Years", "fontSize": 50, "align": "center"}, "encoding": {"x": {"datum": 3.564}, "y": {"datum": -0.195}}},
  {"mark": {"type": "text", "text": "Survival probability", "font": "DejaVu Sans", "fontSize": 42, "angle": 270, "align": "center"}, "encoding": {"x": {"datum": -1.341}, "y": {"datum": 0.5}}}
 ]
},
{
 "width": 295, "height": 829,
 "data": {"values": [{"cat":"Megakaryocytes","v":-4.0,"star":"*"},{"cat":"DC","v":-3.43,"star":"*"},{"cat":"Melanocytes","v":-2.77,"star":"*"},{"cat":"Keratinocytes","v":0,"star":"*"}]},
 "layer": [
  {"mark": {"type": "rect", "filled": false, "stroke": "#d9d9d9", "strokeWidth": 4},
   "encoding": {"x": {"datum": "Megakaryocytes", "bandPosition": -3.238, "axis": null}, "x2": {"datum": "Keratinocytes", "bandPosition": 2.358}, "y": {"datum": 0.3905}, "y2": {"datum": -4.29}}},
  {"mark": {"type": "bar", "color": "#9dc3e6"},
   "encoding": {
    "x": {"field": "cat", "type": "nominal", "scale": {"domain": ["Megakaryocytes","DC","Melanocytes","Keratinocytes"], "paddingInner": 0.322, "paddingOuter": 0.161}, "axis": null},
    "y": {"field": "v", "type": "quantitative", "scale": {"domain": [-4.29, 0.9686], "nice": false, "zero": false},
          "axis": {"values": [-4,-3.5,-3,-2.5,-2,-1.5,-1,-0.5,0], "format": "~g", "title": null, "domain": false, "ticks": false, "tickSize": 0, "grid": true, "gridColor": "#d9d9d9", "gridWidth": 4, "labelFont": "DejaVu Sans", "labelFontSize": 32, "labelFontWeight": "bold", "labelColor": "#404040", "labelPadding": 43, "labelFlush": false, "labelOverlap": false}}}},
  {"mark": {"type": "text", "angle": 270, "align": "left", "dx": 7, "dy": 9, "font": "DejaVu Sans", "fontWeight": "normal", "fontSize": 34, "color": "#262626"},
   "encoding": {"x": {"field": "cat", "type": "nominal", "axis": null}, "y": {"datum": 0}, "text": {"field": "star"}}},
  {"mark": {"type": "text", "angle": 270, "align": "right", "dx": -32, "font": "DejaVu Sans", "fontSize": 36, "color": "#1a1a1a"},
   "encoding": {"x": {"field": "cat", "type": "nominal", "axis": null}, "y": {"datum": 0}, "text": {"field": "cat"}}},
  {"mark": {"type": "text", "text": "−58.95", "angle": 270, "align": "center", "font": "DejaVu Sans", "fontWeight": "normal", "fontSize": 36, "color": "#404040"},
   "encoding": {"x": {"datum": "Megakaryocytes", "axis": null}, "y": {"datum": -3.49}}},
  {"mark": {"type": "text", "text": "0 / 9.9e−19", "angle": 270, "align": "center", "font": "DejaVu Sans", "fontWeight": "normal", "fontSize": 36, "color": "#404040"},
   "encoding": {"x": {"datum": "Keratinocytes", "axis": null}, "y": {"datum": -2.72}}}
 ]
}
]},

{"bounds": "flush", "spacing": 0, "hconcat": [
{"width": 331, "height": 812, "data": {"values": []}, "mark": "point", "encoding": {}},
{
 "width": 1204, "height": 676,
 "data": {"values": [{}]},
 "layer": [
  {"data": {"values": [{"t":0,"s":1},{"t":0.57,"s":0.958},{"t":1.24,"s":0.917},{"t":1.44,"s":0.875},{"t":1.5,"s":0.833},{"t":1.56,"s":0.75},{"t":1.8,"s":0.708},{"t":1.88,"s":0.667},{"t":1.92,"s":0.625},{"t":2.4,"s":0.583},{"t":2.67,"s":0.536},{"t":6.6,"s":0.536}]},
   "mark": {"type": "line", "interpolate": "step-after", "color": "#ed1c24", "strokeWidth": 8},
   "encoding": {
    "x": {"field": "t", "type": "quantitative", "scale": {"domain": [0, 8.264], "nice": false, "zero": false},
          "axis": {"values": [0,1,2,3,4,5,6,7], "format": "d", "title": null, "domain": false, "grid": false, "tickSize": 10, "tickWidth": 4, "tickColor": "black", "labelFont": "Liberation Sans", "labelFontSize": 52, "labelFontWeight": "bold", "labelColor": "black", "labelPadding": 9, "labelFlush": false, "labelOverlap": false}},
    "y": {"field": "s", "type": "quantitative", "scale": {"domain": [0, 1.3651], "nice": false, "zero": false},
          "axis": {"values": [0,0.25,0.5,0.75,1], "format": "~g", "title": null, "domain": false, "grid": false, "tickSize": 13, "tickWidth": 4, "tickColor": "black", "labelFont": "Liberation Sans", "labelFontSize": 52, "labelFontWeight": "bold", "labelColor": "black", "labelPadding": 5, "labelFlush": false, "labelOverlap": false}}}},
  {"data": {"values": [{"t":1.75,"s":0.75},{"t":3.05,"s":0.536},{"t":3.3,"s":0.536},{"t":3.45,"s":0.536},{"t":4.1,"s":0.536},{"t":4.15,"s":0.536},{"t":4.2,"s":0.536},{"t":6.6,"s":0.536}]},
   "mark": {"type": "tick", "orient": "vertical", "color": "#ed1c24", "size": 22, "thickness": 4},
   "encoding": {"x": {"field": "t", "type": "quantitative"}, "y": {"field": "s", "type": "quantitative"}}},
  {"data": {"values": [{"t":0,"s":1},{"t":1.38,"s":0.986},{"t":1.5,"s":0.971},{"t":2.45,"s":0.957},{"t":2.6,"s":0.943},{"t":2.75,"s":0.929},{"t":3.05,"s":0.914},{"t":3.12,"s":0.9},{"t":3.2,"s":0.886},{"t":3.3,"s":0.871},{"t":3.35,"s":0.857},{"t":3.5,"s":0.843},{"t":3.6,"s":0.829},{"t":3.9,"s":0.81},{"t":6.61,"s":0.81}]},
   "mark": {"type": "line", "interpolate": "step-after", "color": "#379a37", "strokeWidth": 8},
   "encoding": {"x": {"field": "t", "type": "quantitative"}, "y": {"field": "s", "type": "quantitative"}}},
  {"data": {"values": [{"t":1.75,"s":0.971},{"t":2.2,"s":0.971},{"t":2.35,"s":0.971},{"t":2.65,"s":0.943},{"t":2.85,"s":0.929},{"t":2.95,"s":0.929},{"t":3.1,"s":0.914},{"t":3.25,"s":0.886},{"t":3.4,"s":0.857},{"t":3.45,"s":0.857},{"t":3.55,"s":0.843},{"t":3.7,"s":0.829},{"t":3.8,"s":0.829},{"t":3.95,"s":0.81},{"t":4.0,"s":0.81},{"t":4.05,"s":0.81},{"t":4.1,"s":0.81},{"t":4.15,"s":0.81},{"t":4.25,"s":0.81},{"t":4.45,"s":0.81},{"t":5.6,"s":0.81},{"t":5.9,"s":0.81},{"t":6.1,"s":0.81},{"t":6.6,"s":0.81}]},
   "mark": {"type": "tick", "orient": "vertical", "color": "#379a37", "size": 22, "thickness": 4},
   "encoding": {"x": {"field": "t", "type": "quantitative"}, "y": {"field": "s", "type": "quantitative"}}},
  {"mark": {"type": "rule", "color": "black", "strokeWidth": 6}, "encoding": {"x": {"datum": 0}, "x2": {"datum": 7.378}, "y": {"datum": 0}}},
  {"mark": {"type": "rule", "color": "black", "strokeWidth": 5}, "encoding": {"x": {"datum": 0}, "y": {"datum": -0.02}, "y2": {"datum": 1.05}}},
  {"mark": {"type": "text", "text": "E", "fontSize": 80, "align": "center"}, "encoding": {"x": {"datum": -1.551}, "y": {"datum": 1.272}}},
  {"mark": {"type": "text", "text": "DAG1 protein expression in LUAD (n = 94)", "fontSize": 62, "align": "left"}, "encoding": {"x": {"datum": -1.661}, "y": {"datum": 1.125}}},
  {"mark": {"type": "text", "text": "n", "fontStyle": "italic", "fontSize": 56, "align": "left"}, "encoding": {"x": {"datum": 4.496}, "y": {"datum": 0.882}}},
  {"mark": {"type": "text", "text": "= 70", "dx": 50, "fontSize": 56, "align": "left"}, "encoding": {"x": {"datum": 4.496}, "y": {"datum": 0.882}}},
  {"mark": {"type": "text", "text": "n", "fontStyle": "italic", "fontSize": 56, "align": "left"}, "encoding": {"x": {"datum": 4.448}, "y": {"datum": 0.59}}},
  {"mark": {"type": "text", "text": "= 24", "dx": 50, "fontSize": 56, "align": "left"}, "encoding": {"x": {"datum": 4.448}, "y": {"datum": 0.59}}},
  {"mark": {"type": "text", "text": "p", "fontStyle": "italic", "fontSize": 54, "align": "left"}, "encoding": {"x": {"datum": 0.254}, "y": {"datum": 0.483}}},
  {"mark": {"type": "text", "text": "= 0.00015", "dx": 48, "fontSize": 54, "align": "left"}, "encoding": {"x": {"datum": 0.254}, "y": {"datum": 0.483}}},
  {"mark": {"type": "text", "text": "HR = 0.225 (0.097, 0.523)", "fontSize": 54, "align": "left"}, "encoding": {"x": {"datum": 0.254}, "y": {"datum": 0.376}}},
  {"mark": {"type": "rule", "color": "#379a37", "strokeWidth": 8}, "encoding": {"x": {"datum": 1.517}, "x2": {"datum": 1.922}, "y": {"datum": 0.208}}},
  {"mark": {"type": "tick", "orient": "vertical", "color": "#379a37", "size": 22, "thickness": 4}, "encoding": {"x": {"datum": 1.72}, "y": {"datum": 0.208}}},
  {"mark": {"type": "rule", "color": "#ed1c24", "strokeWidth": 8}, "encoding": {"x": {"datum": 1.517}, "x2": {"datum": 1.922}, "y": {"datum": 0.107}}},
  {"mark": {"type": "tick", "orient": "vertical", "color": "#ed1c24", "size": 22, "thickness": 4}, "encoding": {"x": {"datum": 1.72}, "y": {"datum": 0.107}}},
  {"mark": {"type": "text", "text": "high expression / low-risk", "fontSize": 50, "align": "left"}, "encoding": {"x": {"datum": 2.086}, "y": {"datum": 0.208}}},
  {"mark": {"type": "text", "text": "low expression / high-risk", "fontSize": 50, "align": "left"}, "encoding": {"x": {"datum": 2.086}, "y": {"datum": 0.107}}},
  {"mark": {"type": "text", "text": "Years", "fontSize": 50, "align": "center"}, "encoding": {"x": {"datum": 3.548}, "y": {"datum": -0.195}}},
  {"mark": {"type": "text", "text": "Survival probability", "font": "DejaVu Sans", "fontSize": 42, "angle": 270, "align": "center"}, "encoding": {"x": {"datum": -1.359}, "y": {"datum": 0.5}}}
 ]
},
{
 "width": 412, "height": 806,
 "data": {"values": [{"cat":"Osteoblast","v":-2.94,"star":"*"},{"cat":"MEP","v":-2.27,"star":"*"},{"cat":"Adipocytes","v":-1.6,"star":"**"},{"cat":"NKT","v":-1.21,"star":"*"},{"cat":"Th2 cells","v":1.49,"star":"*"},{"cat":"pDC","v":2.19,"star":"*"}]},
 "layer": [
  {"mark": {"type": "rect", "filled": false, "stroke": "#d9d9d9", "strokeWidth": 4},
   "encoding": {"x": {"datum": "Osteoblast", "bandPosition": -2.388, "axis": null}, "x2": {"datum": "pDC", "bandPosition": 2.369}, "y": {"datum": 2.566}, "y2": {"datum": -3.3826}}},
  {"mark": {"type": "bar", "color": "#9dc3e6"},
   "encoding": {
    "x": {"field": "cat", "type": "nominal", "scale": {"domain": ["Osteoblast","MEP","Adipocytes","NKT","Th2 cells","pDC"], "paddingInner": 0.2573, "paddingOuter": 0.1287}, "axis": null},
    "y": {"field": "v", "type": "quantitative", "scale": {"domain": [-3.3826, 3.0997], "nice": false, "zero": false},
          "axis": {"values": [-3,-2,-1,0,1,2], "format": "~g", "title": null, "domain": false, "ticks": false, "tickSize": 0, "grid": true, "gridColor": "#d9d9d9", "gridWidth": 4, "labelFont": "DejaVu Sans", "labelFontSize": 34, "labelFontWeight": "bold", "labelColor": "#404040", "labelPadding": 37, "labelFlush": false, "labelOverlap": false}}}},
  {"mark": {"type": "text", "angle": 270, "align": "left", "dx": 10, "dy": 9, "font": "DejaVu Sans", "fontWeight": "normal", "fontSize": 34, "color": "#262626"},
   "encoding": {"x": {"field": "cat", "type": "nominal", "axis": null}, "y": {"datum": 0}, "text": {"field": "star"}}},
  {"mark": {"type": "text", "angle": 270, "align": "right", "dx": -29, "font": "DejaVu Sans", "fontSize": 36, "color": "#1a1a1a"},
   "encoding": {"x": {"field": "cat", "type": "nominal", "axis": null}, "y": {"datum": 0}, "text": {"field": "cat"}}}
 ]
},
{"width": 353, "height": 1, "data": {"values": []}, "mark": "point", "encoding": {}},
{
 "width": 1221, "height": 677,
 "data": {"values": [{}]},
 "layer": [
  {"data": {"values": [{"t":0,"s":1},{"t":1.24,"s":0.944},{"t":1.48,"s":0.889},{"t":1.55,"s":0.833},{"t":2.38,"s":0.778},{"t":2.63,"s":0.722},{"t":3.08,"s":0.667},{"t":3.17,"s":0.611},{"t":3.45,"s":0.55},{"t":4.46,"s":0.55}]},
   "mark": {"type": "line", "interpolate": "step-after", "color": "#ed1c24", "strokeWidth": 8},
   "encoding": {
    "x": {"field": "t", "type": "quantitative", "scale": {"domain": [0, 5.507], "nice": false, "zero": false},
          "axis": {"values": [0,1,2,3,4], "format": "d", "title": null, "domain": false, "grid": false, "tickSize": 10, "tickWidth": 4, "tickColor": "black", "labelFont": "Liberation Sans", "labelFontSize": 52, "labelFontWeight": "bold", "labelColor": "black", "labelPadding": 9, "labelFlush": false, "labelOverlap": false}},
    "y": {"field": "s", "type": "quantitative", "scale": {"domain": [0, 1.3509], "nice": false, "zero": false},
          "axis": {"values": [0,0.25,0.5,0.75,1], "format": "~g", "title": null, "domain": false, "grid": false, "tickSize": 13, "tickWidth": 4, "tickColor": "black", "labelFont": "Liberation Sans", "labelFontSize": 52, "labelFontWeight": "bold", "labelColor": "black", "labelPadding": -2, "labelFlush": false, "labelOverlap": false}}}},
  {"data": {"values": [{"t":3.5,"s":0.55},{"t":3.55,"s":0.55},{"t":3.65,"s":0.55},{"t":3.7,"s":0.55},{"t":3.8,"s":0.55},{"t":4.2,"s":0.55},{"t":4.35,"s":0.55},{"t":4.46,"s":0.55}]},
   "mark": {"type": "tick", "orient": "vertical", "color": "#ed1c24", "size": 22, "thickness": 4},
   "encoding": {"x": {"field": "t", "type": "quantitative"}, "y": {"field": "s", "type": "quantitative"}}},
  {"data": {"values": [{"t":0,"s":1},{"t":1.84,"s":0.963},{"t":2.57,"s":0.926},{"t":3.22,"s":0.889},{"t":3.79,"s":0.817},{"t":4.75,"s":0.817}]},
   "mark": {"type": "line", "interpolate": "step-after", "color": "#379a37", "strokeWidth": 8},
   "encoding": {"x": {"field": "t", "type": "quantitative"}, "y": {"field": "s", "type": "quantitative"}}},
  {"data": {"values": [{"t":2.65,"s":0.926},{"t":2.75,"s":0.926},{"t":2.85,"s":0.926},{"t":2.95,"s":0.926},{"t":3.05,"s":0.926},{"t":3.15,"s":0.926},{"t":3.4,"s":0.889},{"t":3.5,"s":0.889},{"t":3.6,"s":0.889},{"t":3.7,"s":0.889},{"t":3.9,"s":0.817},{"t":4.0,"s":0.817},{"t":4.05,"s":0.817},{"t":4.15,"s":0.817},{"t":4.3,"s":0.817},{"t":4.72,"s":0.817}]},
   "mark": {"type": "tick", "orient": "vertical", "color": "#379a37", "size": 22, "thickness": 4},
   "encoding": {"x": {"field": "t", "type": "quantitative"}, "y": {"field": "s", "type": "quantitative"}}},
  {"mark": {"type": "rule", "color": "black", "strokeWidth": 6}, "encoding": {"x": {"datum": 0}, "x2": {"datum": 4.885}, "y": {"datum": 0}}},
  {"mark": {"type": "rule", "color": "black", "strokeWidth": 5}, "encoding": {"x": {"datum": 0}, "y": {"datum": -0.02}, "y2": {"datum": 1.047}}},
  {"mark": {"type": "text", "text": "F", "fontSize": 80, "align": "center"}, "encoding": {"x": {"datum": -0.875}, "y": {"datum": 1.265}}},
  {"mark": {"type": "text", "text": "DAG1 RNA-Seq in LUAD (n = 45)", "fontSize": 62, "align": "left"}, "encoding": {"x": {"datum": -0.744}, "y": {"datum": 1.12}}},
  {"mark": {"type": "text", "text": "n", "fontStyle": "italic", "fontSize": 56, "align": "left"}, "encoding": {"x": {"datum": 3.956}, "y": {"datum": 0.901}}},
  {"mark": {"type": "text", "text": "= 27", "dx": 50, "fontSize": 56, "align": "left"}, "encoding": {"x": {"datum": 3.956}, "y": {"datum": 0.901}}},
  {"mark": {"type": "text", "text": "n", "fontStyle": "italic", "fontSize": 56, "align": "left"}, "encoding": {"x": {"datum": 3.645}, "y": {"datum": 0.633}}},
  {"mark": {"type": "text", "text": "= 18", "dx": 50, "fontSize": 56, "align": "left"}, "encoding": {"x": {"datum": 3.645}, "y": {"datum": 0.633}}},
  {"mark": {"type": "text", "text": "p", "fontStyle": "italic", "fontSize": 54, "align": "left"}, "encoding": {"x": {"datum": 0.2255}, "y": {"datum": 0.562}}},
  {"mark": {"type": "text", "text": "= 0.02", "dx": 48, "fontSize": 54, "align": "left"}, "encoding": {"x": {"datum": 0.2255}, "y": {"datum": 0.562}}},
  {"mark": {"type": "text", "text": "HR = 0.275 (0.082, 0.919)", "fontSize": 54, "align": "left"}, "encoding": {"x": {"datum": 0.2255}, "y": {"datum": 0.455}}},
  {"mark": {"type": "rule", "color": "#379a37", "strokeWidth": 8}, "encoding": {"x": {"datum": 0.681}, "x2": {"datum": 0.952}, "y": {"datum": 0.258}}},
  {"mark": {"type": "tick", "orient": "vertical", "color": "#379a37", "size": 22, "thickness": 4}, "encoding": {"x": {"datum": 0.816}, "y": {"datum": 0.258}}},
  {"mark": {"type": "rule", "color": "#ed1c24", "strokeWidth": 8}, "encoding": {"x": {"datum": 0.681}, "x2": {"datum": 0.952}, "y": {"datum": 0.153}}},
  {"mark": {"type": "tick", "orient": "vertical", "color": "#ed1c24", "size": 22, "thickness": 4}, "encoding": {"x": {"datum": 0.816}, "y": {"datum": 0.153}}},
  {"mark": {"type": "text", "text": "high expression / low-risk", "fontSize": 50, "align": "left"}, "encoding": {"x": {"datum": 1.065}, "y": {"datum": 0.258}}},
  {"mark": {"type": "text", "text": "low expression / high-risk", "fontSize": 50, "align": "left"}, "encoding": {"x": {"datum": 1.065}, "y": {"datum": 0.153}}},
  {"mark": {"type": "text", "text": "Years", "fontSize": 50, "align": "center"}, "encoding": {"x": {"datum": 2.345}, "y": {"datum": -0.195}}},
  {"mark": {"type": "text", "text": "Survival probability", "font": "DejaVu Sans", "fontSize": 42, "angle": 270, "align": "center"}, "encoding": {"x": {"datum": -0.875}, "y": {"datum": 0.5}}}
 ]
},
{
 "width": 366, "height": 798,
 "data": {"values": [{"cat":"Skeletal muscle","v":-1.31,"star":"*"},{"cat":"MicroenvironmentScore","v":0.59,"star":"*"},{"cat":"Chondrocytes","v":1.15,"star":"*"},{"cat":"ImmuneScore","v":2.0,"star":"*"},{"cat":"CD4+ Tem","v":3.74,"star":"*"}]},
 "layer": [
  {"mark": {"type": "rect", "filled": false, "stroke": "#d9d9d9", "strokeWidth": 4},
   "encoding": {"x": {"datum": "Skeletal muscle", "bandPosition": -2.783, "axis": null}, "x2": {"datum": "CD4+ Tem", "bandPosition": 2.5125}, "y": {"datum": 4.491}, "y2": {"datum": -1.6119}}},
  {"mark": {"type": "bar", "color": "#9dc3e6"},
   "encoding": {
    "x": {"field": "cat", "type": "nominal", "scale": {"domain": ["Skeletal muscle","MicroenvironmentScore","Chondrocytes","ImmuneScore","CD4+ Tem"], "paddingInner": 0.344, "paddingOuter": 0.172}, "axis": null},
    "y": {"field": "v", "type": "quantitative", "scale": {"domain": [-1.6119, 5.0083], "nice": false, "zero": false},
          "axis": {"values": [-1,0,1,2,3,4], "format": "~g", "title": null, "domain": false, "ticks": false, "tickSize": 0, "grid": true, "gridColor": "#d9d9d9", "gridWidth": 4, "labelFont": "DejaVu Sans", "labelFontSize": 34, "labelFontWeight": "bold", "labelColor": "#404040", "labelPadding": 46, "labelFlush": false, "labelOverlap": false}}}},
  {"mark": {"type": "text", "angle": 270, "align": "right", "dx": -23, "dy": 9, "font": "DejaVu Sans", "fontWeight": "normal", "fontSize": 34, "color": "#262626"},
   "encoding": {"x": {"field": "cat", "type": "nominal", "axis": null}, "y": {"datum": 0}, "text": {"field": "star"}}},
  {"mark": {"type": "text", "angle": 270, "align": "left", "dx": 18, "font": "DejaVu Sans", "fontSize": 36, "color": "#1a1a1a"},
   "encoding": {"x": {"field": "cat", "type": "nominal", "axis": null}, "y": {"datum": 0}, "text": {"field": "cat"}}}
 ]
}
]},

{"bounds": "flush", "spacing": 0, "hconcat": [
{"width": 322, "height": 1, "data": {"values": []}, "mark": "point", "encoding": {}},
{
 "width": 1231, "height": 689,
 "data": {"values": [{}]},
 "layer": [
  {"data": {"values": [{"t":0,"s":1},{"t":1.24,"s":0.971},{"t":1.57,"s":0.943},{"t":2.57,"s":0.914},{"t":3.1,"s":0.884},{"t":3.2,"s":0.853},{"t":3.3,"s":0.83},{"t":3.45,"s":0.81},{"t":3.78,"s":0.762},{"t":4.7,"s":0.762}]},
   "mark": {"type": "line", "interpolate": "step-after", "color": "#ed1c24", "strokeWidth": 8},
   "encoding": {
    "x": {"field": "t", "type": "quantitative", "scale": {"domain": [0, 5.535], "nice": false, "zero": false},
          "axis": {"values": [0,1,2,3,4], "format": "d", "title": null, "domain": false, "grid": false, "tickSize": 10, "tickWidth": 4, "tickColor": "black", "labelFont": "Liberation Sans", "labelFontSize": 52, "labelFontWeight": "bold", "labelColor": "black", "labelPadding": 9, "labelFlush": false, "labelOverlap": false}},
    "y": {"field": "s", "type": "quantitative", "scale": {"domain": [0, 1.3748], "nice": false, "zero": false},
          "axis": {"values": [0,0.25,0.5,0.75,1], "format": "~g", "title": null, "domain": false, "grid": false, "tickSize": 13, "tickWidth": 4, "tickColor": "black", "labelFont": "Liberation Sans", "labelFontSize": 52, "labelFontWeight": "bold", "labelColor": "black", "labelPadding": 7, "labelFlush": false, "labelOverlap": false}}}},
  {"data": {"values": [{"t":2.6,"s":0.914},{"t":2.7,"s":0.914},{"t":2.8,"s":0.914},{"t":2.9,"s":0.914},{"t":3.0,"s":0.914},{"t":3.5,"s":0.81},{"t":3.6,"s":0.81},{"t":3.7,"s":0.81},{"t":3.85,"s":0.762},{"t":3.9,"s":0.762},{"t":4.0,"s":0.762},{"t":4.05,"s":0.762},{"t":4.1,"s":0.762},{"t":4.2,"s":0.762},{"t":4.3,"s":0.762},{"t":4.7,"s":0.762}]},
   "mark": {"type": "tick", "orient": "vertical", "color": "#ed1c24", "size": 22, "thickness": 4},
   "encoding": {"x": {"field": "t", "type": "quantitative"}, "y": {"field": "s", "type": "quantitative"}}},
  {"data": {"values": [{"t":0,"s":1},{"t":1.48,"s":0.9},{"t":1.83,"s":0.8},{"t":2.39,"s":0.7},{"t":2.63,"s":0.6},{"t":3.1,"s":0.48},{"t":4.08,"s":0.48}]},
   "mark": {"type": "line", "interpolate": "step-after", "color": "#379a37", "strokeWidth": 8},
   "encoding": {"x": {"field": "t", "type": "quantitative"}, "y": {"field": "s", "type": "quantitative"}}},
  {"data": {"values": [{"t":3.01,"s":0.6},{"t":3.45,"s":0.48},{"t":3.55,"s":0.48},{"t":3.7,"s":0.48},{"t":4.08,"s":0.48}]},
   "mark": {"type": "tick", "orient": "vertical", "color": "#379a37", "size": 22, "thickness": 4},
   "encoding": {"x": {"field": "t", "type": "quantitative"}, "y": {"field": "s", "type": "quantitative"}}},
  {"mark": {"type": "rule", "color": "black", "strokeWidth": 6}, "encoding": {"x": {"datum": 0}, "x2": {"datum": 4.9}, "y": {"datum": 0}}},
  {"mark": {"type": "rule", "color": "black", "strokeWidth": 5}, "encoding": {"x": {"datum": 0}, "y": {"datum": -0.02}, "y2": {"datum": 1.047}}},
  {"mark": {"type": "text", "text": "G", "fontSize": 80, "align": "center"}, "encoding": {"x": {"datum": -0.976}, "y": {"datum": 1.285}}},
  {"mark": {"type": "text", "text": "CD27 RNA-Seq in LUAD (n = 45)", "fontSize": 62, "align": "left"}, "encoding": {"x": {"datum": -0.917}, "y": {"datum": 1.13}}},
  {"mark": {"type": "text", "text": "n", "fontStyle": "italic", "fontSize": 56, "align": "left"}, "encoding": {"x": {"datum": 3.93}, "y": {"datum": 0.826}}},
  {"mark": {"type": "text", "text": "= 35", "dx": 50, "fontSize": 56, "align": "left"}, "encoding": {"x": {"datum": 3.93}, "y": {"datum": 0.826}}},
  {"mark": {"type": "text", "text": "n", "fontStyle": "italic", "fontSize": 56, "align": "left"}, "encoding": {"x": {"datum": 3.251}, "y": {"datum": 0.553}}},
  {"mark": {"type": "text", "text": "= 10", "dx": 50, "fontSize": 56, "align": "left"}, "encoding": {"x": {"datum": 3.251}, "y": {"datum": 0.553}}},
  {"mark": {"type": "text", "text": "p", "fontStyle": "italic", "fontSize": 54, "align": "left"}, "encoding": {"x": {"datum": 0.234}, "y": {"datum": 0.486}}},
  {"mark": {"type": "text", "text": "= 0.02", "dx": 48, "fontSize": 54, "align": "left"}, "encoding": {"x": {"datum": 0.234}, "y": {"datum": 0.486}}},
  {"mark": {"type": "text", "text": "HR = 3.636 (1.13, 11.7)", "fontSize": 54, "align": "left"}, "encoding": {"x": {"datum": 0.234}, "y": {"datum": 0.376}}},
  {"mark": {"type": "rule", "color": "#379a37", "strokeWidth": 8}, "encoding": {"x": {"datum": 0.324}, "x2": {"datum": 0.589}, "y": {"datum": 0.218}}},
  {"mark": {"type": "tick", "orient": "vertical", "color": "#379a37", "size": 22, "thickness": 4}, "encoding": {"x": {"datum": 0.456}, "y": {"datum": 0.218}}},
  {"mark": {"type": "rule", "color": "#ed1c24", "strokeWidth": 8}, "encoding": {"x": {"datum": 0.324}, "x2": {"datum": 0.589}, "y": {"datum": 0.116}}},
  {"mark": {"type": "tick", "orient": "vertical", "color": "#ed1c24", "size": 22, "thickness": 4}, "encoding": {"x": {"datum": 0.456}, "y": {"datum": 0.116}}},
  {"mark": {"type": "text", "text": "high expression / high-risk", "fontSize": 50, "align": "left"}, "encoding": {"x": {"datum": 0.692}, "y": {"datum": 0.218}}},
  {"mark": {"type": "text", "text": "low expression / low-risk", "fontSize": 50, "align": "left"}, "encoding": {"x": {"datum": 0.692}, "y": {"datum": 0.116}}},
  {"mark": {"type": "text", "text": "Years", "fontSize": 50, "align": "center"}, "encoding": {"x": {"datum": 2.365}, "y": {"datum": -0.195}}},
  {"mark": {"type": "text", "text": "Survival probability", "font": "DejaVu Sans", "fontSize": 42, "angle": 270, "align": "center"}, "encoding": {"x": {"datum": -0.886}, "y": {"datum": 0.5}}}
 ]
},
{
 "width": 508, "height": 811,
 "data": {"values": [{"cat":"Neutrophils","v":-5,"star":"*"},{"cat":"MEP","v":-4.47,"star":"**"},{"cat":"Mast cells","v":-1.49,"star":"**"},{"cat":"Myocytes","v":-1.34,"star":"**"},{"cat":"pDC","v":2.76,"star":"*"},{"cat":"Tregs","v":3.8,"star":"**"}]},
 "layer": [
  {"mark": {"type": "rect", "filled": false, "stroke": "#d9d9d9", "strokeWidth": 4},
   "encoding": {"x": {"datum": "Neutrophils", "bandPosition": -2.702, "axis": null}, "x2": {"datum": "Tregs", "bandPosition": 2.3625}, "y": {"datum": 4.68}, "y2": {"datum": -5.582}}},
  {"mark": {"type": "bar", "color": "#9dc3e6"},
   "encoding": {
    "x": {"field": "cat", "type": "nominal", "scale": {"domain": ["Neutrophils","MEP","Mast cells","Myocytes","pDC","Tregs"], "paddingInner": 0.3386, "paddingOuter": 0.1693}, "axis": null},
    "y": {"field": "v", "type": "quantitative", "scale": {"domain": [-5.582, 5.716], "nice": false, "zero": false},
          "axis": {"values": [-5,-4,-3,-2,-1,0,1,2,3,4], "format": "~g", "title": null, "domain": false, "ticks": false, "tickSize": 0, "grid": true, "gridColor": "#d9d9d9", "gridWidth": 4, "labelFont": "DejaVu Sans", "labelFontSize": 34, "labelFontWeight": "bold", "labelColor": "#404040", "labelPadding": 51, "labelFlush": false, "labelOverlap": false}}}},
  {"mark": {"type": "text", "angle": 270, "align": "right", "dx": -18, "dy": 9, "font": "DejaVu Sans", "fontWeight": "normal", "fontSize": 34, "color": "#262626"},
   "encoding": {"x": {"field": "cat", "type": "nominal", "axis": null}, "y": {"datum": 0}, "text": {"field": "star"}}},
  {"mark": {"type": "text", "angle": 270, "align": "left", "dx": 18, "font": "DejaVu Sans", "fontWeight": "normal", "fontSize": 46, "color": "#1a1a1a"},
   "encoding": {"x": {"field": "cat", "type": "nominal", "axis": null}, "y": {"datum": 0}, "text": {"field": "cat"}}},
  {"mark": {"type": "text", "text": "−48.44", "angle": 270, "align": "center", "font": "DejaVu Sans", "fontWeight": "normal", "fontSize": 43, "color": "#262626"},
   "encoding": {"x": {"datum": "Neutrophils", "axis": null}, "y": {"datum": -3.53}}}
 ]
},
{"width": 392, "height": 1, "data": {"values": []}, "mark": "point", "encoding": {}},
{
 "width": 1243, "height": 687,
 "data": {"values": [{}]},
 "layer": [
  {"data": {"values": [{"t":0,"s":1},{"t":1.55,"s":0.958},{"t":1.67,"s":0.917},{"t":1.8,"s":0.875},{"t":1.85,"s":0.833},{"t":1.9,"s":0.792},{"t":2.62,"s":0.75},{"t":2.75,"s":0.708},{"t":3.11,"s":0.654},{"t":3.15,"s":0.6},{"t":3.25,"s":0.55},{"t":6.62,"s":0.55}]},
   "mark": {"type": "line", "interpolate": "step-after", "color": "#ed1c24", "strokeWidth": 8},
   "encoding": {
    "x": {"field": "t", "type": "quantitative", "scale": {"domain": [0, 8.387], "nice": false, "zero": false},
          "axis": {"values": [0,1,2,3,4,5,6,7], "format": "d", "title": null, "domain": false, "grid": false, "tickSize": 10, "tickWidth": 4, "tickColor": "black", "labelFont": "Liberation Sans", "labelFontSize": 52, "labelFontWeight": "bold", "labelColor": "black", "labelPadding": 9, "labelFlush": false, "labelOverlap": false}},
    "y": {"field": "s", "type": "quantitative", "scale": {"domain": [0, 1.3744], "nice": false, "zero": false},
          "axis": {"values": [0,0.25,0.5,0.75,1], "format": "~g", "title": null, "domain": false, "grid": false, "tickSize": 13, "tickWidth": 4, "tickColor": "black", "labelFont": "Liberation Sans", "labelFontSize": 52, "labelFontWeight": "bold", "labelColor": "black", "labelPadding": 17, "labelFlush": false, "labelOverlap": false}}}},
  {"data": {"values": [{"t":2.0,"s":0.792},{"t":2.65,"s":0.75},{"t":2.85,"s":0.708},{"t":3.4,"s":0.55},{"t":3.5,"s":0.55},{"t":3.7,"s":0.55},{"t":3.85,"s":0.55},{"t":4.05,"s":0.55},{"t":4.1,"s":0.55},{"t":4.4,"s":0.55},{"t":5.55,"s":0.55},{"t":6.6,"s":0.55}]},
   "mark": {"type": "tick", "orient": "vertical", "color": "#ed1c24", "size": 22, "thickness": 4},
   "encoding": {"x": {"field": "t", "type": "quantitative"}, "y": {"field": "s", "type": "quantitative"}}},
  {"data": {"values": [{"t":0,"s":1},{"t":2.69,"s":0.944},{"t":4.56,"s":0.944}]},
   "mark": {"type": "line", "interpolate": "step-after", "color": "#379a37", "strokeWidth": 8},
   "encoding": {"x": {"field": "t", "type": "quantitative"}, "y": {"field": "s", "type": "quantitative"}}},
  {"data": {"values": [{"t":1.8,"s":1},{"t":2.8,"s":0.944},{"t":3.4,"s":0.944},{"t":3.5,"s":0.944},{"t":3.6,"s":0.944},{"t":3.7,"s":0.944},{"t":3.85,"s":0.944},{"t":3.95,"s":0.944},{"t":4.0,"s":0.944},{"t":4.1,"s":0.944},{"t":4.2,"s":0.944},{"t":4.3,"s":0.944},{"t":4.4,"s":0.944},{"t":4.5,"s":0.944}]},
   "mark": {"type": "tick", "orient": "vertical", "color": "#379a37", "size": 22, "thickness": 4},
   "encoding": {"x": {"field": "t", "type": "quantitative"}, "y": {"field": "s", "type": "quantitative"}}},
  {"mark": {"type": "rule", "color": "black", "strokeWidth": 6}, "encoding": {"x": {"datum": 0}, "x2": {"datum": 7.348}, "y": {"datum": 0}}},
  {"mark": {"type": "rule", "color": "black", "strokeWidth": 5}, "encoding": {"x": {"datum": 0}, "y": {"datum": -0.02}, "y2": {"datum": 1.05}}},
  {"mark": {"type": "text", "text": "H", "fontSize": 80, "align": "center"}, "encoding": {"x": {"datum": -1.491}, "y": {"datum": 1.285}}},
  {"mark": {"type": "text", "text": "SLC39A8 protein expression in LUAD (n = 44)", "fontSize": 62, "align": "left"}, "encoding": {"x": {"datum": -1.721}, "y": {"datum": 1.135}}},
  {"mark": {"type": "text", "text": "n", "fontStyle": "italic", "fontSize": 56, "align": "left"}, "encoding": {"x": {"datum": 3.576}, "y": {"datum": 0.85}}},
  {"mark": {"type": "text", "text": "= 20", "dx": 50, "fontSize": 56, "align": "left"}, "encoding": {"x": {"datum": 3.576}, "y": {"datum": 0.85}}},
  {"mark": {"type": "text", "text": "n", "fontStyle": "italic", "fontSize": 56, "align": "left"}, "encoding": {"x": {"datum": 1.417}, "y": {"datum": 0.69}}},
  {"mark": {"type": "text", "text": "= 24", "dx": 50, "fontSize": 56, "align": "left"}, "encoding": {"x": {"datum": 1.417}, "y": {"datum": 0.69}}},
  {"mark": {"type": "text", "text": "p", "fontStyle": "italic", "fontSize": 54, "align": "left"}, "encoding": {"x": {"datum": 0.405}, "y": {"datum": 0.49}}},
  {"mark": {"type": "text", "text": "= 0.0051", "dx": 48, "fontSize": 54, "align": "left"}, "encoding": {"x": {"datum": 0.405}, "y": {"datum": 0.49}}},
  {"mark": {"type": "text", "text": "HR = 0.094 (0.012, 0.738)", "fontSize": 54, "align": "left"}, "encoding": {"x": {"datum": 0.405}, "y": {"datum": 0.379}}},
  {"mark": {"type": "rule", "color": "#379a37", "strokeWidth": 8}, "encoding": {"x": {"datum": 1.316}, "x2": {"datum": 1.714}, "y": {"datum": 0.227}}},
  {"mark": {"type": "tick", "orient": "vertical", "color": "#379a37", "size": 22, "thickness": 4}, "encoding": {"x": {"datum": 1.515}, "y": {"datum": 0.227}}},
  {"mark": {"type": "rule", "color": "#ed1c24", "strokeWidth": 8}, "encoding": {"x": {"datum": 1.316}, "x2": {"datum": 1.714}, "y": {"datum": 0.123}}},
  {"mark": {"type": "tick", "orient": "vertical", "color": "#ed1c24", "size": 22, "thickness": 4}, "encoding": {"x": {"datum": 1.515}, "y": {"datum": 0.123}}},
  {"mark": {"type": "text", "text": "high expression / low-risk", "fontSize": 50, "align": "left"}, "encoding": {"x": {"datum": 1.883}, "y": {"datum": 0.227}}},
  {"mark": {"type": "text", "text": "low expression / high-risk", "fontSize": 50, "align": "left"}, "encoding": {"x": {"datum": 1.883}, "y": {"datum": 0.123}}},
  {"mark": {"type": "text", "text": "Years", "fontSize": 50, "align": "center"}, "encoding": {"x": {"datum": 3.549}, "y": {"datum": -0.195}}},
  {"mark": {"type": "text", "text": "Survival probability", "font": "DejaVu Sans", "fontSize": 42, "angle": 270, "align": "center"}, "encoding": {"x": {"datum": -1.323}, "y": {"datum": 0.5}}}
 ]
},
{
 "width": 179, "height": 812,
 "data": {"values": [{"cat":"Skeletal muscle","v":-1.13,"star":"*"},{"cat":"MPP","v":2.56,"star":"*"}]},
 "layer": [
  {"mark": {"type": "rect", "filled": false, "stroke": "#d9d9d9", "strokeWidth": 4},
   "encoding": {"x": {"datum": "Skeletal muscle", "bandPosition": -3.148, "axis": null}, "x2": {"datum": "MPP", "bandPosition": 2.699}, "y": {"datum": 2.8108}, "y2": {"datum": -1.3378}}},
  {"mark": {"type": "bar", "color": "#9dc3e6"},
   "encoding": {
    "x": {"field": "cat", "type": "nominal", "scale": {"domain": ["Skeletal muscle","MPP"], "paddingInner": 0.4525, "paddingOuter": 0.2263}, "axis": null},
    "y": {"field": "v", "type": "quantitative", "scale": {"domain": [-1.3378, 3.2387], "nice": false, "zero": false},
          "axis": {"values": [-1,-0.5,0,0.5,1,1.5,2,2.5], "format": "~g", "title": null, "domain": false, "ticks": false, "tickSize": 0, "grid": true, "gridColor": "#d9d9d9", "gridWidth": 4, "labelFont": "DejaVu Sans", "labelFontSize": 32, "labelFontWeight": "bold", "labelColor": "#404040", "labelPadding": 20, "labelFlush": false, "labelOverlap": false}}}},
  {"mark": {"type": "text", "angle": 270, "align": "right", "dx": -26, "dy": 9, "font": "DejaVu Sans", "fontWeight": "normal", "fontSize": 34, "color": "#262626"},
   "encoding": {"x": {"field": "cat", "type": "nominal", "axis": null}, "y": {"datum": 0}, "text": {"field": "star"}}},
  {"mark": {"type": "text", "angle": 270, "align": "left", "dx": 22, "font": "DejaVu Sans", "fontSize": 38, "color": "#1a1a1a"},
   "encoding": {"x": {"field": "cat", "type": "nominal", "axis": null}, "y": {"datum": 0}, "text": {"field": "cat"}}}
 ]
}
]}
]
}
